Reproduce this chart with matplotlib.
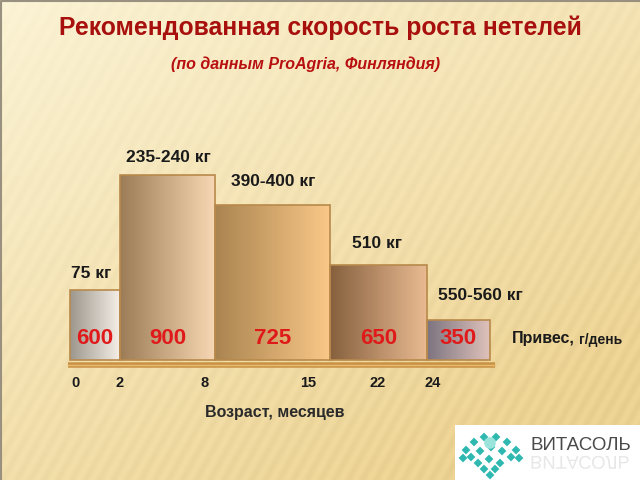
import numpy as np
import matplotlib
matplotlib.use("Agg")
import matplotlib.pyplot as plt
from matplotlib.patches import Rectangle, PathPatch
from matplotlib.colors import LinearSegmentedColormap
from matplotlib.textpath import TextPath
from matplotlib.font_manager import FontProperties
from matplotlib.transforms import Affine2D

plt.rcParams['font.family'] = ['Liberation Sans', 'DejaVu Sans']

# данные
привес = [600, 900, 725, 650, 350]
вес = ["75 кг", "235-240 кг", "390-400 кг", "510 кг", "550-560 кг"]
высота = [70, 185, 155, 95, 40]          # высота столбцов (условные ед.)
ширина = [50, 95, 115, 97, 63]           # ширина столбцов (условные ед.)
возраст = ["0", "2", "8", "15", "22", "24"]

# раскладка на слайде (в пикселях)
x0, y0 = 70, 360
возраст_x = [75, 120, 205, 308, 378, 433]
вес_xy = [(71, 273), (126, 157), (231, 181), (352, 243), (438, 295)]
цвета = [("#9c968c", "#f6efe8"), ("#9c7c56", "#f8d8b4"), ("#aa8450", "#fac888"),
         ("#86603e", "#eabb92"), ("#7c7480", "#dfc2ba")]

fig = plt.figure(figsize=(6.4, 4.8), dpi=100)
ax = fig.add_axes([0, 0, 1, 1])
ax.set_xlim(0, 640)
ax.set_ylim(480, 0)
ax.axis('off')

# фон: градиент с косыми полосками
yy, xx = np.mgrid[0:480, 0:640]
t = np.clip((xx / 640 * 0.6 + yy / 480 * 0.8) / 1.2, 0, 1)
полосы = 0.5 + 0.5 * np.sin((xx + yy * 0.55) / 2.2)
c1 = np.array([252, 244, 214]) / 255
c2 = np.array([240, 214, 150]) / 255
фон = c1[None, None, :] * (1 - t[..., None]) + c2[None, None, :] * t[..., None]
фон = фон - 0.025 * полосы[..., None] * (0.3 + t[..., None])
ax.imshow(np.clip(фон, 0, 1), extent=(0, 640, 480, 0), aspect='auto', zorder=0)
ax.plot([1, 1, 640], [480, 1, 1], color="#9a9080", lw=1.5, zorder=1)

# столбцы с горизонтальным градиентом
left = x0
grad = np.linspace(0, 1, 256)[None, :]
for i in range(len(привес)):
    w, h = ширина[i], высота[i]
    cmap = LinearSegmentedColormap.from_list("g%d" % i, [цвета[i][0], цвета[i][1]])
    im = ax.imshow(grad, cmap=cmap, extent=(left, left + w, y0, y0 - h),
                   aspect='auto', zorder=2)
    rect = Rectangle((left, y0 - h), w, h, fc='none', ec="#b8894a", lw=1.2, zorder=3)
    ax.add_patch(rect)
    im.set_clip_path(rect)
    ax.text(left + w / 2, 339, str(привес[i]), color="#e01a1a", fontsize=16,
            fontweight='bold', ha='center', va='center', zorder=4)
    left += w

# ось
ax.plot([68, 495], [365, 365], color="#c99345", lw=4, solid_capstyle='butt', zorder=3)
ax.plot([68, 495], [365, 365], color="#e8bb70", lw=1, zorder=3)

for s, x in zip(возраст, возраст_x):
    ax.text(x, 383, s, fontsize=10.5, fontweight='bold', ha='center', va='center',
            color="#1a1a1a")
for s, (x, y) in zip(вес, вес_xy):
    ax.text(x, y, s, fontsize=12.5, fontweight='bold', ha='left', va='center',
            color="#1a1a1a")

ax.text(275, 412, "Возраст, месяцев", fontsize=11.5, fontweight='bold',
        ha='center', va='center', color="#2a2a2a")
t1 = ax.text(512, 339, "Привес,", fontsize=11.5, fontweight='bold', ha='left',
             va='center', color="#1a1a1a")
fig.canvas.draw()
bb = t1.get_window_extent()
# вторая часть подписи ставится сразу за первой (координаты экрана)
ax.text(bb.x1 + 4, (bb.y0 + bb.y1) / 2 - 1, "г/день", fontsize=10,
        fontweight='bold', ha='left', va='center', color="#1a1a1a", transform=None)

ax.text(320, 28, "Рекомендованная скорость роста нетелей", fontsize=17.8,
        fontweight='bold', ha='center', va='center', color="#a8100e")
ax.text(306, 64, "(по данным ProAgria, Финляндия)", fontsize=11.5,
        fontweight='bold', style='italic', ha='center', va='center', color="#b81010")

# логотип
ax.add_patch(Rectangle((455, 425), 185, 55, fc='white', ec='none', zorder=5))
ромбы_x = [466, 474, 484, 496, 507, 516, 471, 480, 491, 502, 511, 478, 489, 500,
           484, 495, 490, 463, 519]
ромбы_y = [450, 442, 437, 437, 442, 450, 457, 451, 447, 451, 457, 463, 459, 463,
           469, 469, 475, 458, 458]
ax.scatter(ромбы_x, ромбы_y, marker='D', s=20, c="#2fb8b0", ec='none', zorder=6)
ax.scatter([490], [443], marker='o', s=70, c="#9ae4dc", ec='none', zorder=7)
ax.text(530, 446, "ВИТАСОЛЬ", fontsize=13.5, color="#4a4a4a", ha='left',
        va='center', zorder=6)
# отражение надписи
fp = FontProperties(family='Liberation Sans', size=18.5)
tp = TextPath((0, 0), "ВИТАСОЛЬ", prop=fp)
tp = tp.transformed(Affine2D().translate(530, 456))
ax.add_patch(PathPatch(tp, fc="#4a4a4a", ec='none', alpha=0.13, zorder=6))

fig.savefig("out.png", dpi=100)
